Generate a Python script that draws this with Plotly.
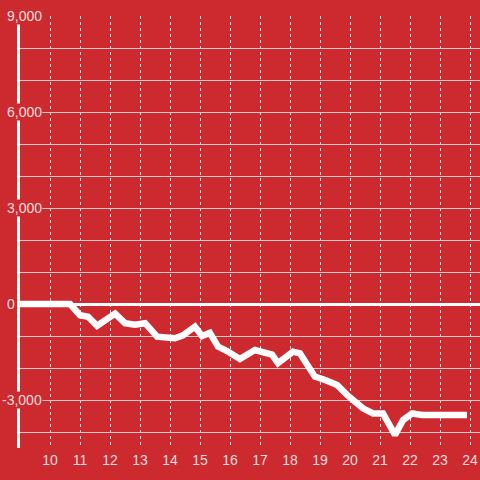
import plotly.graph_objects as go

hours = [9.0, 10.67, 11.0, 11.27, 11.57, 12.17, 12.5, 12.83, 13.17, 13.57, 14.17, 14.43,
         14.83, 15.07, 15.33, 15.6, 15.9, 16.33, 16.83, 17.4, 17.6, 18.1, 18.33, 18.83,
         19.17, 19.57, 19.9, 20.17, 20.43, 20.77, 21.1, 21.5, 21.77, 22.07, 22.4, 23.9]
values = [0, 0, -350, -400, -680, -300, -600, -650, -600, -1020, -1070, -980,
          -710, -1000, -900, -1330, -1470, -1720, -1440, -1580, -1850, -1490, -1540, -2270,
          -2375, -2530, -2840, -3050, -3260, -3420, -3420, -4090, -3625, -3420, -3470, -3470]

x_ticks = list(range(10, 25))
y_label_vals = [9000, 6000, 3000, 0, -3000]
y_label_text = ["9,000", "6,000", "3,000", "0", "-3,000"]

BG = "#cc2a2f"
LABEL = "rgba(255,255,255,0.85)"
FONT = "Liberation Sans, Arial, sans-serif"

fig = go.Figure()
fig.add_trace(go.Scatter(x=hours, y=values, mode="lines",
                         line=dict(color="white", width=6.5), hoverinfo="skip",
                         showlegend=False))

annotations = []
for v, t in zip(y_label_vals, y_label_text):
    neg = v < 0
    annotations.append(dict(
        x=0, y=v, xref="paper", yref="y", text=t, showarrow=False,
        xanchor="right" if neg else "left", yanchor="middle",
        xshift=23 if neg else -14,
        bgcolor=BG, borderpad=0,
        font=dict(family=FONT, size=14, color=LABEL)))

fig.update_layout(
    width=480, height=480,
    margin=dict(l=20, r=0, t=16, b=32),
    paper_bgcolor=BG, plot_bgcolor=BG,
    annotations=annotations,
    xaxis=dict(range=[9, 24.333], tickvals=x_ticks, ticktext=[str(t) for t in x_ticks],
               showgrid=True, gridcolor="#ece4e4", griddash="dot", gridwidth=1,
               zeroline=False, showline=False, ticks="", ticklabelstandoff=2,
               tickfont=dict(family=FONT, size=14, color=LABEL)),
    yaxis=dict(range=[-4500, 9000], dtick=1000, tick0=0,
               showgrid=True, gridcolor="#d4cccc", gridwidth=1,
               zeroline=True, zerolinecolor="white", zerolinewidth=3,
               showline=True, linecolor="white", linewidth=3,
               showticklabels=False, ticks=""),
)

fig.write_html("out.html", config={"displayModeBar": False},
               post_script="document.body.style.margin='0';document.body.style.background='%s';" % BG)
